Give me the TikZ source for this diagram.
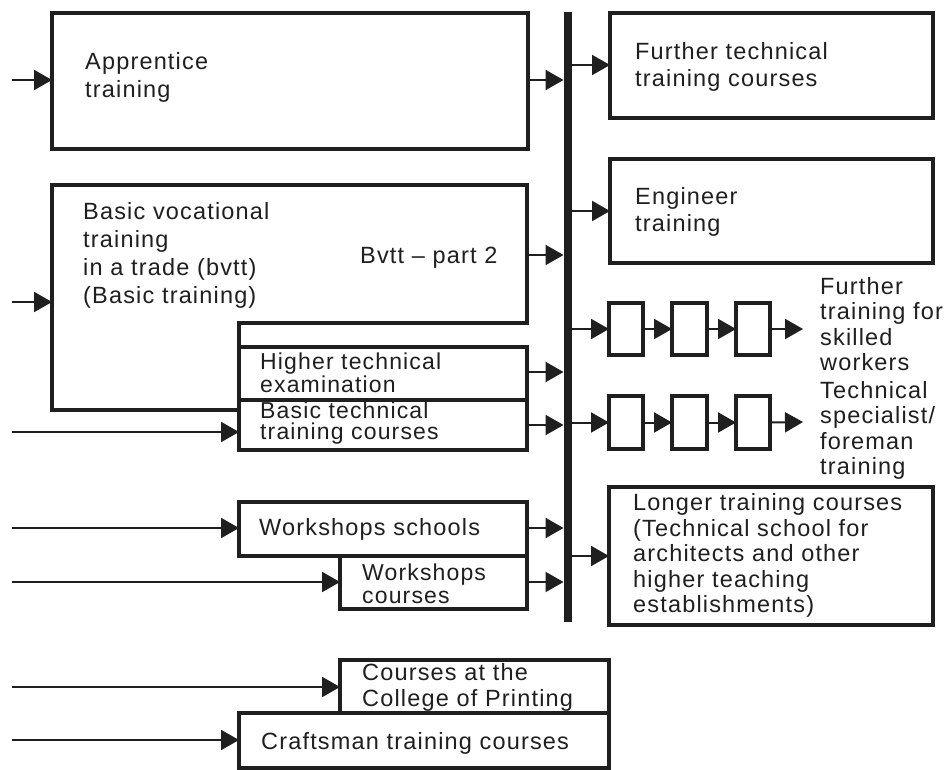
\documentclass[tikz,border=0pt]{standalone}
\usepackage{fontspec}
\newfontfamily\hv[LetterSpace=5]{Liberation Sans}
\usetikzlibrary{arrows.meta,fit}
\definecolor{ink}{gray}{0.12}
\begin{document}
\begin{tikzpicture}[x=1pt,y=-1pt,
  box/.style={draw=ink,line width=3.3pt,inner sep=0pt,outer sep=0pt},
  arr/.style={draw=ink,line width=2pt,-{Triangle[length=18pt,width=20pt]}},
  txt/.style={inner sep=0pt,anchor=west,align=left,text=ink,font={\hv\fontsize{23.5}{28}\selectfont}},
  p27/.style={font={\hv\fontsize{23.5}{27}\selectfont}},
  p25/.style={font={\hv\fontsize{23.5}{25.5}\selectfont}},
  p23/.style={font={\hv\fontsize{23}{23}\selectfont}},
  p21/.style={font={\hv\fontsize{23}{21}\selectfont}}]
\fill[white] (0,0) rectangle (946,770);
\useasboundingbox (0,0) rectangle (946,770);

% vertical collecting bar
\node[fill=ink,inner sep=0pt,outer sep=0pt,fit={(563.5,12) (571.5,622)}] (bar) {};

% left boxes
\node[box,fit={(52,13) (528,149)}] (appr) {};
\node[fit={(52,185) (527,323)},inner sep=0pt,outer sep=0pt] (bvtt) {};
\draw[box] (52,185) -- (527,185) -- (527,323) -- (239,323) -- (239,410) -- (52,410) -- cycle;
\node[box,fit={(239,347) (527,400)}] (hte) {};
\node[box,fit={(239,400) (527,450)}] (btc) {};
\node[box,fit={(239,502) (527,556)}] (wss) {};
\node[box,fit={(340,556) (527,609)}] (wsc) {};
\node[box,fit={(340,660) (609,713)}] (cop) {};
\node[box,fit={(239,713) (609,768)}] (craft) {};

% right boxes
\node[box,fit={(610,13) (933,118)}] (ftt) {};
\node[box,fit={(610,159) (933,263)}] (eng) {};
\node[box,fit={(609,487) (933,625)}] (longer) {};
\node[box,fit={(609,303) (643,355)}] (a1) {};
\node[box,fit={(672,303) (707,355)}] (a2) {};
\node[box,fit={(736,303) (770,355)}] (a3) {};
\node[box,fit={(609,396) (643,449)}] (b1) {};
\node[box,fit={(672,396) (707,449)}] (b2) {};
\node[box,fit={(736,396) (770,449)}] (b3) {};

% texts
\node[txt] (tappr) at (85,77.5) {Apprentice\\training};
\node[txt] (tbvtt) at (83,255.5) {Basic vocational\\training\\in a trade (bvtt)\\(Basic training)};
\node[txt] (tpart) at (360,258) {Bvtt – part 2};
\node[txt,p23] (thte) at (260,373) {Higher technical\\examination};
\node[txt,p21] (tbtc) at (260,423.5) {Basic technical\\training courses};
\node[txt] (twss) at (259,529) {Workshops schools};
\node[txt,p23] (twsc) at (362,583.5) {Workshops\\courses};
\node[txt,p25] (tcop) at (362,687.5) {Courses at the\\College of Printing};
\node[txt] (tcraft) at (261,743) {Craftsman training courses};
\node[txt,p27] (tftt) at (635,66.5) {Further technical\\training courses};
\node[txt,p27] (teng) at (635,211.5) {Engineer\\training};
\node[txt,p25] (tfts) at (820,324) {Further\\training for\\skilled\\workers};
\node[txt,p25] (ttsf) at (820,430.5) {Technical\\specialist/\\foreman\\training};
\node[txt,p25] (tlong) at (633,555.5) {Longer training courses\\(Technical school for\\architects and other\\higher teaching\\establishments)};

% free input ends
\coordinate (i1) at (12,80);
\coordinate (i2) at (12,302);
\coordinate (i3) at (12,432);
\coordinate (i4) at (12,528);
\coordinate (i5) at (12,582);
\coordinate (i6) at (12,687);
\coordinate (i7) at (12,740);
\coordinate (o1) at (803,329);
\coordinate (o2) at (803,422);

% inputs
\draw[arr] (i1) -- (i1 -| appr.west);
\draw[arr] (i2) -- (i2 -| bvtt.west);
\draw[arr] (i3) -- (i3 -| btc.west);
\draw[arr] (i4) -- (i4 -| wss.west);
\draw[arr] (i5) -- (i5 -| wsc.west);
\draw[arr] (i6) -- (i6 -| cop.west);
\draw[arr] (i7) -- (i7 -| craft.west);

% into the bar
\draw[arr] (appr.east |- 0,80) -- (bar.west |- 0,80);
\draw[arr] (bvtt.east |- 0,255) -- (bar.west |- 0,255);
\draw[arr] (hte.east |- 0,372) -- (bar.west |- 0,372);
\draw[arr] (btc.east |- 0,425) -- (bar.west |- 0,425);
\draw[arr] (wss.east |- 0,528) -- (bar.west |- 0,528);
\draw[arr] (wsc.east |- 0,582) -- (bar.west |- 0,582);

% out of the bar
\draw[arr] (bar.east |- 0,65) -- (ftt.west |- 0,65);
\draw[arr] (bar.east |- 0,211) -- (eng.west |- 0,211);
\draw[arr] (bar.east |- a1.west) -- (a1.west);
\draw[arr] (a1) -- (a2);
\draw[arr] (a2) -- (a3);
\draw[arr] (a3.east) -- (o1);
\draw[arr] (bar.east |- b1.west) -- (b1.west);
\draw[arr] (b1) -- (b2);
\draw[arr] (b2) -- (b3);
\draw[arr] (b3.east) -- (o2);
\draw[arr] (bar.east |- 0,556) -- (longer.west |- 0,556);
\end{tikzpicture}
\end{document}
